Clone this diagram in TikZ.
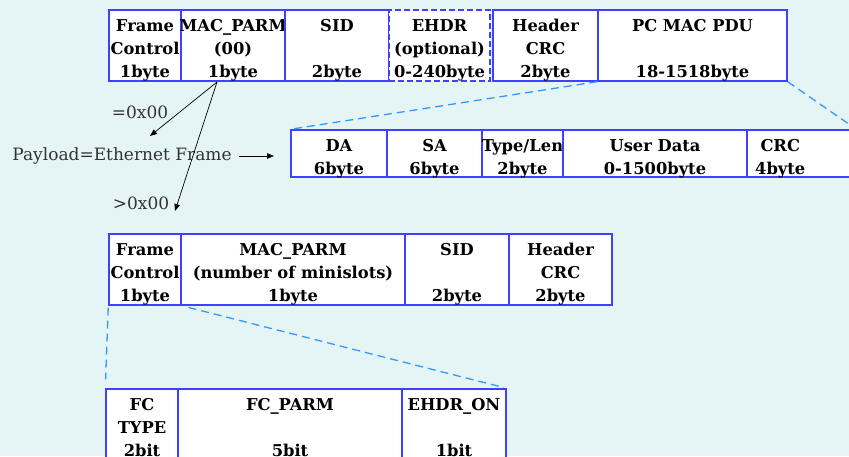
\documentclass[tikz,border=0pt]{standalone}
\usepackage{fontspec}
\setmainfont{DejaVu Serif}
\usetikzlibrary{arrows.meta}
\definecolor{bgcol}{RGB}{229,245,246}
\definecolor{boxblue}{RGB}{64,64,255}
\definecolor{dashblue}{RGB}{51,153,255}
\definecolor{txtgray}{RGB}{50,50,50}
\newcommand\cellfont{\fontsize{16.3}{23}\selectfont\bfseries}
\tikzset{
  cell/.style={draw=boxblue, fill=white, line width=1.4pt, inner sep=0pt},
  dashcell/.style={cell, dash pattern=on 6pt off 3pt},
  celltext/.style={inner sep=0pt, align=center, font=\cellfont, text=black},
  zoomline/.style={draw=dashblue, line width=1.3pt, dash pattern=on 8pt off 5pt},
  plain/.style={font=\fontsize{17}{20}\selectfont, text=txtgray, inner sep=0pt},
  pointer/.style={draw=black, line width=0.7pt, -{Triangle[length=7pt,width=5.5pt]}}
}
\def\tshift{5}
% \mkcell[style]{name}{x1}{y1}{x2}{y2}{text}
\newcommand\mkcell[7][cell]{%
  \node[#1, minimum width={#5pt-#3pt}, minimum height={#6pt-#4pt}] (#2) at ({(#3+#5)/2},{(#4+#6)/2}) {};
  \node[celltext] (#2-t) at ([yshift=-\tshift pt]#2.center) {#7};}
\begin{document}
\begin{tikzpicture}[x=1pt,y=-1pt]
\fill[bgcol] (0,0) rectangle (849,456);
\useasboundingbox (0,0) rectangle (849,456);
\clip (0,0) rectangle (849,456);
% Row 1
\mkcell{fca}{109}{10}{181}{81}{Frame\\Control\\1byte}
\mkcell{maca}{181}{10}{285}{81}{MAC\_PARM\\(00)\\1byte}
\mkcell{sida}{285}{10}{389}{81}{SID\\\mbox{}\\2byte}
\mkcell[dashcell]{ehdr}{389}{10}{490}{81}{EHDR\\(optional)\\0-240byte}
\mkcell{hcrca}{493}{10}{598}{81}{Header\\CRC\\2byte}
\mkcell{pdu}{598}{10}{787}{81}{PC MAC PDU\\\mbox{}\\18-1518byte}
% Row 2
\mkcell{da}{291}{130}{387}{177}{DA\\6byte}
\mkcell{sa}{387}{130}{482}{177}{SA\\6byte}
\mkcell{tl}{482}{130}{563}{177}{Type/Len\\2byte}
\mkcell{ud}{563}{130}{747}{177}{User Data\\0-1500byte}
\node[cell, minimum width=108pt, minimum height=47pt, anchor=west] (crc) at (747,153.5) {};
\node[celltext, anchor=west] (crc-t) at ([xshift=8pt,yshift=-\tshift pt]crc.west) {CRC\\4byte};
% Row 3
\mkcell{fcb}{109}{234}{181}{305}{Frame\\Control\\1byte}
\mkcell{macb}{181}{234}{405}{305}{MAC\_PARM\\(number of minislots)\\1byte}
\mkcell{sidb}{405}{234}{509}{305}{SID\\\mbox{}\\2byte}
\mkcell{hcrcb}{509}{234}{612}{305}{Header\\CRC\\2byte}
% Row 4
\def\tshift{2.5}
\mkcell{fctype}{106}{389}{178}{461}{FC\\TYPE\\2bit}
\mkcell{fcparm}{178}{389}{402}{461}{FC\_PARM\\\mbox{}\\5bit}
\mkcell{ehdron}{402}{389}{506}{461}{EHDR\_ON\\\mbox{}\\1bit}
% zoom lines
\draw[zoomline] (pdu.south west) -- (da.north west);
\draw[zoomline] (pdu.south east) -- (crc.north east);
\draw[zoomline, shorten <=2pt, shorten >=9pt] (fcb.south west) -- (fctype.north west);
\draw[zoomline, shorten <=7pt, shorten >=3pt] (fcb.south east) -- (ehdron.north east);
% labels and pointers
\coordinate (split) at (217,82);
\coordinate (eqend) at (150,136);
\coordinate (gtend) at (175,211);
\node[plain] (eq) at (140,112) {=0x00};
\node[plain] (gt) at (141,203) {>0x00};
\node[plain] (payload) at (122,156) {Payload=Ethernet Frame};
\coordinate (pend) at (274,156);
\draw[pointer] (split) -- (eqend);
\draw[pointer] (split) -- (gtend);
\draw[pointer, shorten <=7pt] (payload.east) -- (pend);
\end{tikzpicture}
\end{document}
